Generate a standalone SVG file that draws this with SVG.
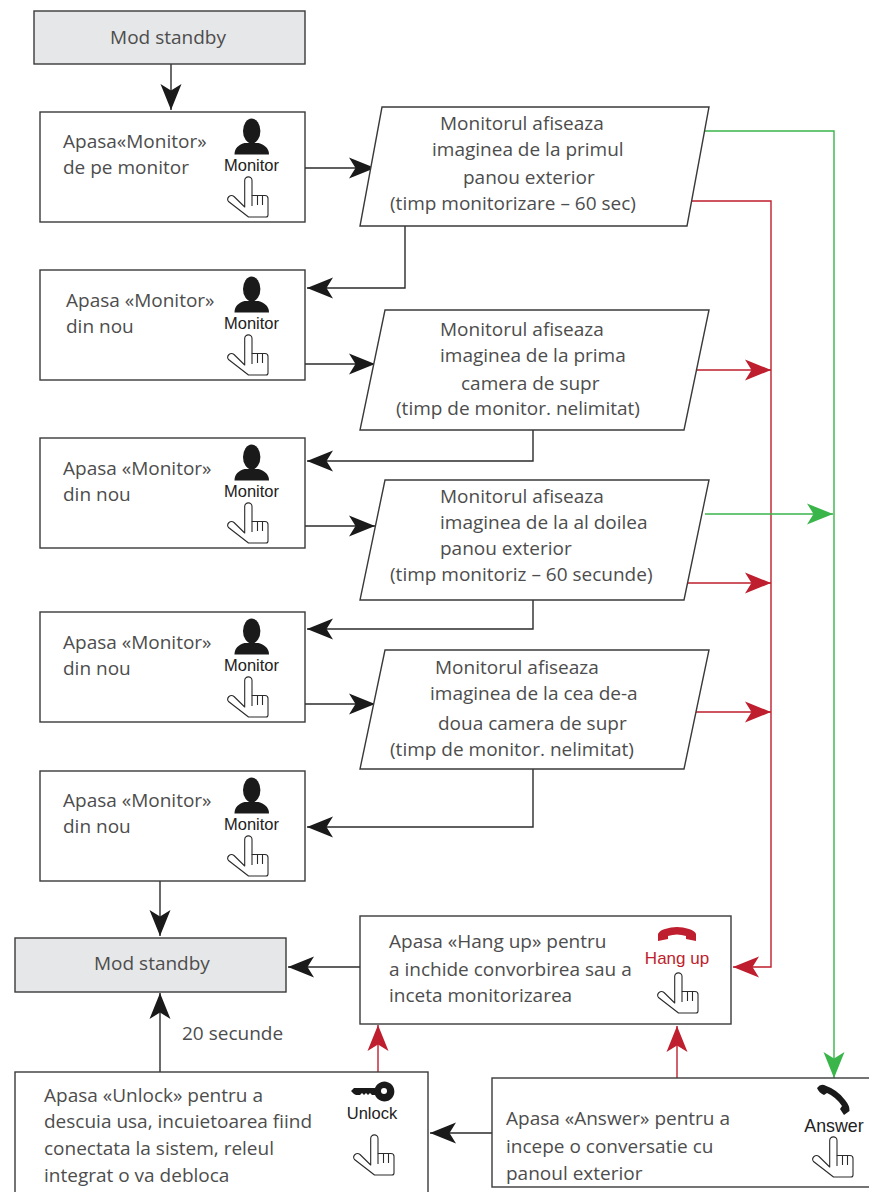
<svg xmlns="http://www.w3.org/2000/svg" width="869" height="1192" viewBox="0 0 869 1192">
<style>
.n{fill:#fff;stroke:#3a3a3a;stroke-width:1.4}
.g{fill:#e6e7e8;stroke:#3a3a3a;stroke-width:1.4}
.t{font-family:"Open Sans","Noto Sans",sans-serif;font-size:19px;fill:#4d4d4d}
.i{font-family:"Liberation Sans",Arial,sans-serif;font-size:16.500px;fill:#222}
.k{fill:none;stroke:#2b2b2b;stroke-width:1.4}
.kr{fill:none;stroke:#be1e2d;stroke-width:1.4}
.kg{fill:none;stroke:#39b54a;stroke-width:1.4}
</style>
<defs>
<marker id="ab" markerUnits="userSpaceOnUse" markerWidth="28" markerHeight="24" refX="26" refY="12" orient="auto"><path d="M0 1.5L26 12L0 22.5L6.5 12z" fill="#1a1a1a"/></marker>
<marker id="ar" markerUnits="userSpaceOnUse" markerWidth="28" markerHeight="24" refX="26" refY="12" orient="auto"><path d="M0 1.5L26 12L0 22.5L6.5 12z" fill="#be1e2d"/></marker>
<marker id="ag" markerUnits="userSpaceOnUse" markerWidth="28" markerHeight="24" refX="26" refY="12" orient="auto"><path d="M0 1.5L26 12L0 22.5L6.5 12z" fill="#39b54a"/></marker>
<g id="hand"><path d="M17.700 3.500a3.600 3.600 0 0 1 7.300 0V18.500H38q3 0 3 3V38q0 2-2 2H21.500L1.500 24.500q-2-2.500.5-5q2.500-2 5 0L17.700 30z" fill="#fff" stroke="#2b2b2b" stroke-width="1.100" stroke-linejoin="round"/><path d="M25 18.500V29M30.500 19V28M35.500 19V28" fill="none" stroke="#2b2b2b" stroke-width="1.100"/></g>
<g id="person"><ellipse cx="251.700" cy="131" rx="8.700" ry="12.500" fill="#1a1a1a"/><path d="M234.500 154.500c0-6 3.500-9.500 10-11.500h14c6.500 2 10.500 5.500 10.500 11.500z" fill="#1a1a1a"/></g>
<g id="mon"><use href="#person"/><text class="i" x="251.500" y="170.500" text-anchor="middle">Monitor</text><use href="#hand" x="227" y="177"/></g>
</defs>
<rect width="869" height="1192" fill="#fff"/>
<g id="connectors">
<path class="k" marker-end="url(#ab)" d="M171 64V110"/>
<path class="k" marker-end="url(#ab)" d="M305 168H375"/>
<path class="k" marker-end="url(#ab)" d="M405 226V288H307"/>
<path class="k" marker-end="url(#ab)" d="M305 364H375"/>
<path class="k" marker-end="url(#ab)" d="M533 430V461H307"/>
<path class="k" marker-end="url(#ab)" d="M305 526H375"/>
<path class="k" marker-end="url(#ab)" d="M533 600V629H307"/>
<path class="k" marker-end="url(#ab)" d="M305 704H375"/>
<path class="k" marker-end="url(#ab)" d="M533 769V827H307"/>
<path class="k" marker-end="url(#ab)" d="M160 881V936"/>
<path class="k" marker-end="url(#ab)" d="M360 967H288"/>
<path class="k" marker-end="url(#ab)" d="M160 1072V993"/>
<path class="k" marker-end="url(#ab)" d="M492 1133H430"/>
<path class="kr" marker-end="url(#ar)" d="M378 1072V1025"/>
<path class="kr" marker-end="url(#ar)" d="M677 1078V1026"/>
<path class="kr" marker-end="url(#ar)" d="M688 201H771V967H733"/>
<path class="kr" marker-end="url(#ar)" d="M696 370H771"/>
<path class="kr" marker-end="url(#ar)" d="M688 583H771"/>
<path class="kr" marker-end="url(#ar)" d="M696 712H771"/>
<path class="kg" marker-end="url(#ag)" d="M705 131H834V1078"/>
<path class="kg" marker-end="url(#ag)" d="M705 514H833"/>
</g>
<g id="standby1"><rect class="g" x="34" y="11" width="271" height="53"/><text class="t" x="168" y="44" text-anchor="middle">Mod standby</text></g>
<g id="box1"><rect class="n" x="40" y="112" width="265" height="110"/><text class="t" x="63" y="148">Apasa«Monitor»</text><text class="t" x="63" y="174">de pe monitor</text><use href="#mon"/></g>
<g id="para1"><polygon class="n" points="382,107 709,107 687,226 360,226"/><text class="t" x="440" y="130">Monitorul afiseaza</text><text class="t" x="432" y="156">imaginea de la primul</text><text class="t" x="463" y="184">panou exterior</text><text class="t" x="390" y="210">(timp monitorizare – 60 sec)</text></g>
<g id="box2"><rect class="n" x="40" y="270" width="265" height="110"/><text class="t" x="66" y="307">Apasa «Monitor»</text><text class="t" x="66" y="333">din nou</text><use href="#mon" y="158"/></g>
<g id="para2"><polygon class="n" points="385,310 709,310 684,430 360,430"/><text class="t" x="440" y="336">Monitorul afiseaza</text><text class="t" x="440" y="362">imaginea de la prima</text><text class="t" x="461" y="390">camera de supr</text><text class="t" x="396" y="415">(timp de monitor. nelimitat)</text></g>
<g id="box3"><rect class="n" x="40" y="438" width="265" height="110"/><text class="t" x="63" y="475">Apasa «Monitor»</text><text class="t" x="63" y="501">din nou</text><use href="#mon" y="326"/></g>
<g id="para3"><polygon class="n" points="385,480 709,480 684,600 360,600"/><text class="t" x="440" y="503">Monitorul afiseaza</text><text class="t" x="440" y="529">imaginea de la al doilea</text><text class="t" x="440" y="555">panou exterior</text><text class="t" x="390" y="581">(timp monitoriz – 60 secunde)</text></g>
<g id="box4"><rect class="n" x="40" y="612" width="265" height="110"/><text class="t" x="63" y="649">Apasa «Monitor»</text><text class="t" x="63" y="675">din nou</text><use href="#mon" y="500"/></g>
<g id="para4"><polygon class="n" points="385,650 709,650 684,769 360,769"/><text class="t" x="435" y="674">Monitorul afiseaza</text><text class="t" x="430" y="700">imaginea de la cea de-a</text><text class="t" x="438" y="730">doua camera de supr</text><text class="t" x="390" y="756">(timp de monitor. nelimitat)</text></g>
<g id="box5"><rect class="n" x="40" y="771" width="265" height="110"/><text class="t" x="63" y="807">Apasa «Monitor»</text><text class="t" x="63" y="833">din nou</text><use href="#mon" y="659"/></g>
<g id="standby2"><rect class="g" x="15" y="938" width="271" height="54"/><text class="t" x="94" y="970">Mod standby</text></g>
<text id="delay" class="t" x="182" y="1040">20 secunde</text>
<g id="hangup"><rect class="n" x="360" y="916" width="371" height="108"/><text class="t" x="389" y="948">Apasa «Hang up» pentru</text><text class="t" x="389" y="976">a inchide convorbirea sau a</text><text class="t" x="389" y="1002">inceta monitorizarea</text><path d="M658 941V934Q660 930 665 929Q677 925 689 929Q695 931 696 934V941L686 939V936Q677 933 668 936V939z" fill="#be1e2d"/><text class="i" x="677" y="964" text-anchor="middle" style="fill:#be1e2d;font-size:17px">Hang up</text><use href="#hand" x="657" y="973"/></g>
<g id="unlock"><rect class="n" x="15" y="1072" width="413" height="125"/><text class="t" x="44" y="1102">Apasa «Unlock» pentru a</text><text class="t" x="44" y="1128">descuia usa, incuietoarea fiind</text><text class="t" x="44" y="1155">conectata la sistem, releul</text><text class="t" x="44" y="1182">integrat o va debloca</text><path d="M351 1091l3-3H375a10 10 0 1 1 0 7h-3l-2-2-2 2-2-2-2 2-2-2-2 2h-4l-2-1z" fill="#1a1a1a"/><circle cx="384" cy="1091" r="3" fill="#fff"/><text class="i" x="372" y="1119" text-anchor="middle">Unlock</text><use href="#hand" x="353" y="1135"/></g>
<g id="answer"><rect class="n" x="492" y="1078" width="385" height="109"/><text class="t" x="506" y="1125">Apasa «Answer» pentru a</text><text class="t" x="506" y="1153">incepe o conversatie cu</text><text class="t" x="506" y="1180">panoul exterior</text><path d="M817 1088Q820 1084 824 1085Q838 1090 845 1100Q850 1106 849.500 1111L844 1115L840 1109L842 1106Q836 1097 827 1093L824 1095Q819 1093 817 1088z" fill="#1a1a1a"/><text class="i" x="834" y="1132" text-anchor="middle" style="font-size:17.800px">Answer</text><use href="#hand" x="812" y="1137"/></g>
</svg>
